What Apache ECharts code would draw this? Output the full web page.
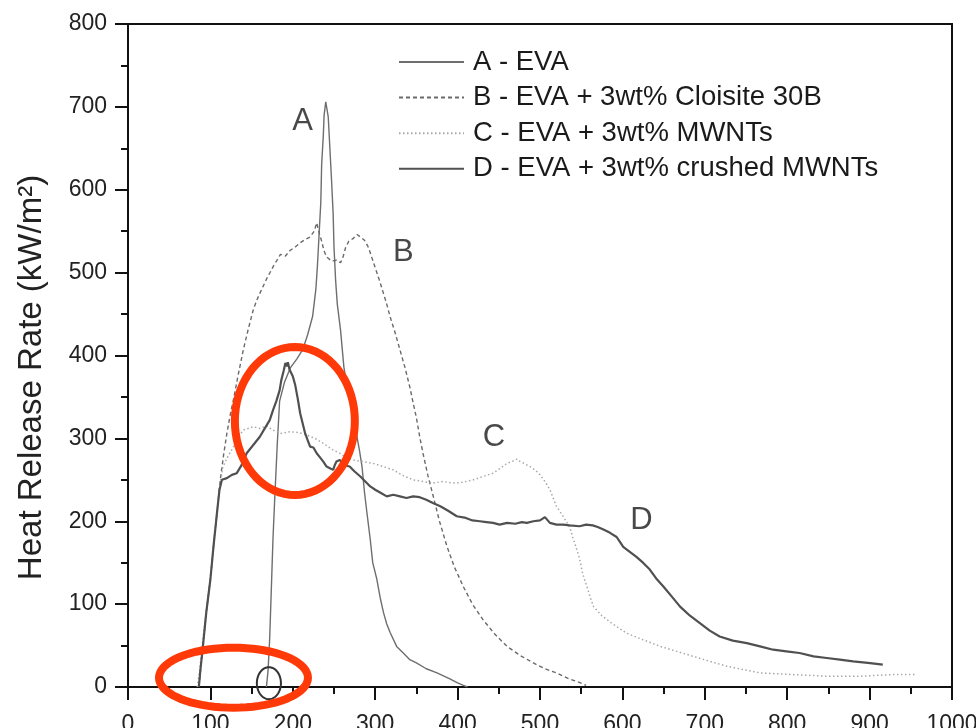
<!DOCTYPE html>
<html>
<head>
<meta charset="utf-8">
<script src="https://cdn.jsdelivr.net/npm/echarts@6/dist/echarts.min.js"></script>
<style>
html,body{margin:0;padding:0;background:#fff;}
#chart{width:976px;height:728px;}
</style>
</head>
<body>
<div id="chart"></div>
<script>
// ---- Data (time in s, heat release rate in kW/m²) ----
const seriesNames = ['A - EVA', 'B - EVA + 3wt% Cloisite 30B', 'C - EVA + 3wt% MWNTs', 'D - EVA + 3wt% crushed MWNTs'];

const curveA = [[168,0],[170,20],[172,60],[174,120],[176,180],[178,226],[181,290],[184,345],[190,368],[197,385],[205,396],[212,407],[218,425],[224,447],[228,480],[230,510],[232,548],[234,585],[235,630],[237,665],[238,690],[240,706],[241,700],[243,688],[245,650],[247,612],[249,570],[250,531],[252,490],[254,462],[258,430],[262,386],[266,362],[269,347],[273,328],[277,307],[281,285],[284,266],[287,235],[290,210],[294,178],[297,150],[302,130],[306,108],[310,90],[314,76],[318,66],[326,49],[335,40],[342,33],[350,29],[362,22],[375,17],[390,10],[400,5],[407,2],[412,0]];

const curveB = [[86,0],[88,20],[91,50],[95,90],[100,130],[104,172],[108,210],[112,250],[116,280],[120,306],[124,328],[128,347],[134,378],[140,407],[146,432],[152,455],[156,466],[160,475],[168,492],[176,507],[185,522],[191,520],[197,527],[203,531],[209,536],[215,540],[221,543],[226,550],[229,560],[232,548],[235,538],[238,526],[241,519],[247,514],[253,515],[258,512],[261,519],[264,530],[268,538],[273,541],[278,546],[282,543],[287,539],[291,532],[294,524],[298,512],[302,500],[306,488],[310,475],[314,462],[318,447],[324,428],[330,407],[336,386],[342,362],[346,343],[350,325],[354,302],[358,282],[364,255],[370,232],[378,200],[387,170],[396,145],[407,121],[418,100],[431,81],[445,64],[460,49],[476,38],[492,29],[506,22],[520,17],[535,10],[549,5],[556,2]];

const curveC = [[84,0],[87,20],[90,50],[95,92],[100,132],[104,172],[108,212],[112,245],[115,265],[120,276],[128,290],[134,302],[140,310],[146,312],[152,314],[160,312],[168,315],[176,310],[186,306],[197,308],[207,307],[217,304],[227,300],[237,294],[247,287],[257,282],[265,277],[273,274],[285,272],[297,270],[310,266],[322,262],[334,255],[346,250],[358,248],[370,246],[382,248],[394,246],[406,247],[419,250],[431,254],[443,258],[452,264],[460,270],[466,272],[472,275],[476,272],[482,269],[488,266],[494,262],[500,256],[506,248],[512,238],[516,228],[520,218],[528,206],[536,193],[540,180],[544,168],[548,155],[552,136],[557,121],[561,108],[565,97],[575,86],[587,77],[596,71],[605,65],[625,57],[646,49],[666,43],[686,37],[706,31],[727,25],[747,21],[767,17],[787,16],[807,15],[828,14],[848,13],[868,13],[888,13],[908,14],[929,15],[955,15]];

const curveD = [[86,0],[88,22],[91,50],[95,90],[100,130],[104,172],[108,210],[111,238],[114,250],[120,252],[126,256],[132,258],[138,268],[144,282],[152,292],[160,302],[166,312],[172,322],[176,334],[180,345],[184,358],[186,370],[189,382],[191,391],[193,387],[194,392],[196,383],[200,375],[203,364],[206,348],[209,330],[212,318],[215,306],[218,298],[221,290],[225,289],[229,282],[233,277],[237,272],[241,266],[245,264],[249,262],[251,268],[253,272],[257,274],[261,270],[265,267],[269,266],[275,260],[282,254],[288,248],[294,242],[300,238],[307,234],[314,230],[322,232],[330,230],[338,228],[346,230],[354,229],[362,226],[370,222],[379,218],[388,213],[399,206],[410,204],[418,201],[427,200],[435,199],[443,198],[451,196],[460,198],[470,197],[478,199],[484,198],[492,200],[500,201],[506,205],[508,203],[512,198],[520,196],[528,196],[536,195],[548,194],[556,196],[564,195],[570,193],[577,190],[585,186],[593,181],[597,175],[601,169],[609,163],[617,157],[625,150],[633,142],[641,131],[650,121],[660,109],[670,97],[682,86],[694,77],[706,68],[718,61],[734,56],[751,53],[767,49],[783,45],[799,43],[815,41],[832,37],[848,35],[864,33],[880,31],[898,29],[916,27]];

// curve letters placed next to the curves (x, y, text)
const curveLetters = [[212,683,'A'],[334,524,'B'],[444,301,'C'],[623,201,'D']];

// hand-drawn highlight ellipses: [centerX, centerY, radiusX, radiusY] in data units
const redEllipses = [[202.5,321,72.8,89.3],[128,11.2,90.4,36.2]];
const blackEllipses = [[171,4.6,14.6,19.3]];

const xTicks = {min:0, max:1000, interval:100};
const yTicks = {min:0, max:800, interval:100};

// ---- Chart ----
const chart = echarts.init(document.getElementById('chart'), null, {renderer:'canvas'});
const FONT = 'Liberation Sans, Arial, sans-serif';

function ellipseItem(color, width) {
  return function (params, api) {
    const cx = api.value(0), cy = api.value(1), rx = api.value(2), ry = api.value(3);
    const c = api.coord([cx, cy]);
    const e = api.coord([cx + rx, cy + ry]);
    const prx = Math.abs(e[0] - c[0]), pry = Math.abs(e[1] - c[1]);
    const pts = [];
    for (let i = 0; i < 72; i++) {
      const t = i / 72 * Math.PI * 2;
      pts.push([c[0] + prx * Math.cos(t), c[1] + pry * Math.sin(t)]);
    }
    return {type:'polygon', shape:{points:pts}, style:{fill:'none', stroke:color, lineWidth:width}};
  };
}

const option = {
  animation: false,
  backgroundColor: '#fff',
  grid: {left:128, right:24, top:24, bottom:41, containLabel:false, outerBoundsMode:'none',
         show:true, borderColor:'#111', borderWidth:2, backgroundColor:'transparent'},
  legend: {
    orient:'vertical', left:393, top:43,
    itemWidth:65, itemHeight:14, itemGap:7.6,
    data: seriesNames,
    itemStyle:{opacity:0},
    textStyle:{fontSize:27.5, color:'#1a1a1a', fontFamily:FONT, padding:[0,0,0,4]},
    selectedMode:false
  },
  xAxis: {
    type:'value', min:xTicks.min, max:xTicks.max, interval:xTicks.interval,
    axisLine:{show:true, lineStyle:{color:'#111', width:2}},
    axisTick:{show:true, inside:false, length:13, lineStyle:{color:'#111', width:2}},
    minorTick:{show:true, splitNumber:2, length:7, lineStyle:{color:'#111', width:2}},
    splitLine:{show:false},
    axisLabel:{fontSize:23, color:'#222', fontFamily:FONT, margin:26, formatter:function(v){return String(v);}}
  },
  yAxis: {
    type:'value', min:yTicks.min, max:yTicks.max, interval:yTicks.interval,
    name:'Heat Release Rate (kW/m²)', nameLocation:'middle', nameGap:80,
    nameTextStyle:{fontSize:33, color:'#222', fontFamily:FONT, padding:[0,44,0,0]},
    axisLine:{show:true, lineStyle:{color:'#111', width:2}},
    axisTick:{show:true, inside:false, length:13, lineStyle:{color:'#111', width:2}},
    minorTick:{show:true, splitNumber:2, length:7, lineStyle:{color:'#111', width:2}},
    splitLine:{show:false},
    axisLabel:{fontSize:23, color:'#222', fontFamily:FONT, margin:21}
  },
  series: [
    {name:seriesNames[0], type:'line', data:curveA, showSymbol:false, symbol:'none',
     lineStyle:{color:'#6e6e6e', width:1.4, type:'solid'}, itemStyle:{color:'#6e6e6e'}, z:3},
    {name:seriesNames[1], type:'line', data:curveB, showSymbol:false, symbol:'none',
     lineStyle:{color:'#6a6a6a', width:1.4, type:[4,3]}, itemStyle:{color:'#6a6a6a'}, z:3},
    {name:seriesNames[2], type:'line', data:curveC, showSymbol:false, symbol:'none',
     lineStyle:{color:'#a8a8a8', width:1.5, type:[1.5,2.5]}, itemStyle:{color:'#a8a8a8'}, z:3},
    {name:seriesNames[3], type:'line', data:curveD, showSymbol:false, symbol:'none',
     lineStyle:{color:'#505050', width:2.2, type:'solid'}, itemStyle:{color:'#505050'}, z:3},
    {name:'letters', type:'scatter', data:curveLetters, symbolSize:0, silent:true, z:5,
     label:{show:true, position:'inside', formatter:function(p){return p.value[2];},
            fontSize:31, color:'#1a1a1a', fontFamily:FONT}},
    {name:'redEllipses', type:'custom', data:redEllipses, renderItem:ellipseItem('#ff3a08', 8), clip:false, silent:true, z:10},
    {name:'blackEllipses', type:'custom', data:blackEllipses, renderItem:ellipseItem('#333', 2), clip:false, silent:true, z:9}
  ]
};
chart.setOption(option);
</script>
</body>
</html>
